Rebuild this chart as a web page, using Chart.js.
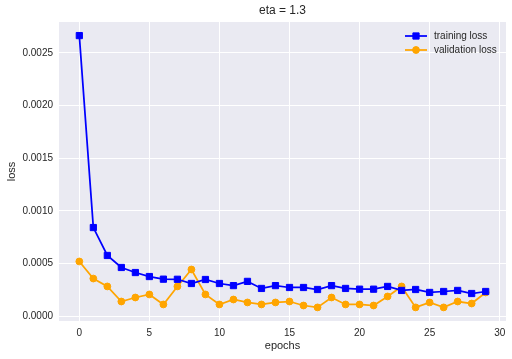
<!DOCTYPE html>
<html>
<head>
<meta charset="utf-8">
<script src="https://cdn.jsdelivr.net/npm/chart.js@4.4.1/dist/chart.umd.min.js"></script>
<style>
html,body{margin:0;padding:0;background:#ffffff;}
#wrap{width:512px;height:359px;position:relative;}
</style>
</head>
<body>
<div id="wrap"><canvas id="c" width="512" height="359"></canvas></div>
<script>
const epochs = [0,1,2,3,4,5,6,7,8,9,10,11,12,13,14,15,16,17,18,19,20,21,22,23,24,25,26,27,28,29];
const trainingLoss = [0.002663,0.000841,0.000576,0.000462,0.000414,0.000376,0.000351,0.00035,0.00031,0.000348,
  0.00031,0.00029,0.00033,0.000263,0.00029,0.000272,0.000272,0.000253,0.00029,0.000263,
  0.000256,0.000256,0.000282,0.000244,0.000253,0.000225,0.000234,0.000244,0.000215,0.000234];
const validationLoss = [0.000519,0.000357,0.000282,0.000139,0.000177,0.000206,0.000111,0.000282,0.000443,0.000206,
  0.000111,0.000158,0.00013,0.000111,0.00013,0.000139,0.000101,0.000083,0.000177,0.000111,
  0.000111,0.000101,0.000187,0.000282,0.000083,0.00013,0.000083,0.000139,0.00012,0.000225];
const xTicks = [0,5,10,15,20,25,30];
const yTicks = [0,0.0005,0.001,0.0015,0.002,0.0025];
const titleText = 'eta = 1.3';
const seriesNames = ['training loss','validation loss'];

const FONT = "'Liberation Sans', Arial, sans-serif";
const TEXT = '#262626';

const bgPlugin = {
  id: 'bg',
  beforeDraw(chart){
    const {ctx, chartArea:a} = chart;
    ctx.save();
    ctx.fillStyle = '#EAEAF2';
    ctx.fillRect(a.left, a.top, a.right - a.left, a.bottom - a.top);
    ctx.restore();
  },
  afterDraw(chart){
    const {ctx, chartArea:a} = chart;
    ctx.save();
    ctx.fillStyle = TEXT;
    ctx.font = '12px ' + FONT;
    ctx.textAlign = 'center';
    ctx.textBaseline = 'middle';
    ctx.fillText(titleText, (a.left + a.right)/2, 11);
    ctx.font = '10px ' + FONT;
    ctx.textAlign = 'left';
    const rows = [36, 50];
    chart.data.datasets.forEach((ds, i) => {
      const y = rows[i];
      ctx.strokeStyle = ds.borderColor;
      ctx.lineWidth = ds.borderWidth;
      ctx.beginPath();
      ctx.moveTo(405, y); ctx.lineTo(427, y);
      ctx.stroke();
      ctx.fillStyle = ds.pointBackgroundColor;
      ctx.strokeStyle = ds.pointBorderColor;
      ctx.lineWidth = 1;
      ctx.beginPath();
      if (ds.pointStyle === 'rect') {
        const s = Math.SQRT1_2 * ds.pointRadius;
        ctx.rect(416 - s, y - s, 2*s, 2*s);
      } else {
        ctx.arc(416, y, ds.pointRadius, 0, Math.PI*2);
      }
      ctx.fill(); ctx.stroke();
      ctx.fillStyle = TEXT;
      ctx.fillText(ds.label, 434, y);
    });
    ctx.restore();
  }
};

new Chart(document.getElementById('c'), {
  type: 'line',
  data: {
    datasets: [
      {
        label: seriesNames[0],
        data: epochs.map((e,i)=>({x:e, y:trainingLoss[i]})),
        borderColor: '#0000FF',
        backgroundColor: '#0000FF',
        pointBackgroundColor: '#0000FF',
        pointBorderColor: '#0000FF',
        borderWidth: 1.75,
        pointStyle: 'rect',
        pointRadius: 4.4,
        pointBorderWidth: 1,
        tension: 0
      },
      {
        label: seriesNames[1],
        data: epochs.map((e,i)=>({x:e, y:validationLoss[i]})),
        borderColor: '#FFA500',
        backgroundColor: '#FFA500',
        pointBackgroundColor: '#FFA500',
        pointBorderColor: '#FFA500',
        borderWidth: 1.75,
        pointStyle: 'circle',
        pointRadius: 3.4,
        pointBorderWidth: 1,
        tension: 0
      }
    ]
  },
  options: {
    responsive: false,
    animation: false,
    devicePixelRatio: 1,
    layout: { padding: { top: 22, right: 6, left: 0, bottom: 0 } },
    plugins: { legend: { display: false }, title: { display: false }, tooltip: { enabled: false } },
    scales: {
      x: {
        type: 'linear',
        min: -1.45,
        max: 30.45,
        afterBuildTicks(s){ s.ticks = xTicks.map(v=>({value:v})); },
        afterFit(s){ s.height = 38; },
        grid: { color: '#FFFFFF', lineWidth: 1, drawTicks: false },
        border: { display: false },
        ticks: { color: TEXT, font: { family: FONT, size: 10 }, padding: 6, maxRotation: 0, autoSkip: false, callback: v => String(v) },
        title: { display: true, text: 'epochs', color: TEXT, font: { family: FONT, size: 11 }, padding: { top: 0, bottom: 6 } }
      },
      y: {
        type: 'linear',
        min: -0.000046,
        max: 0.002792,
        afterBuildTicks(s){ s.ticks = yTicks.map(v=>({value:v})); },
        afterFit(s){ s.width = 59; },
        grid: { color: '#FFFFFF', lineWidth: 1, drawTicks: false },
        border: { display: false },
        ticks: { color: TEXT, font: { family: FONT, size: 10 }, padding: 6, autoSkip: false, callback: v => Number(v).toFixed(4) },
        title: { display: true, text: 'loss', color: TEXT, font: { family: FONT, size: 11 }, padding: { top: 5, bottom: 0 } }
      }
    }
  },
  plugins: [bgPlugin]
});
</script>
</body>
</html>
